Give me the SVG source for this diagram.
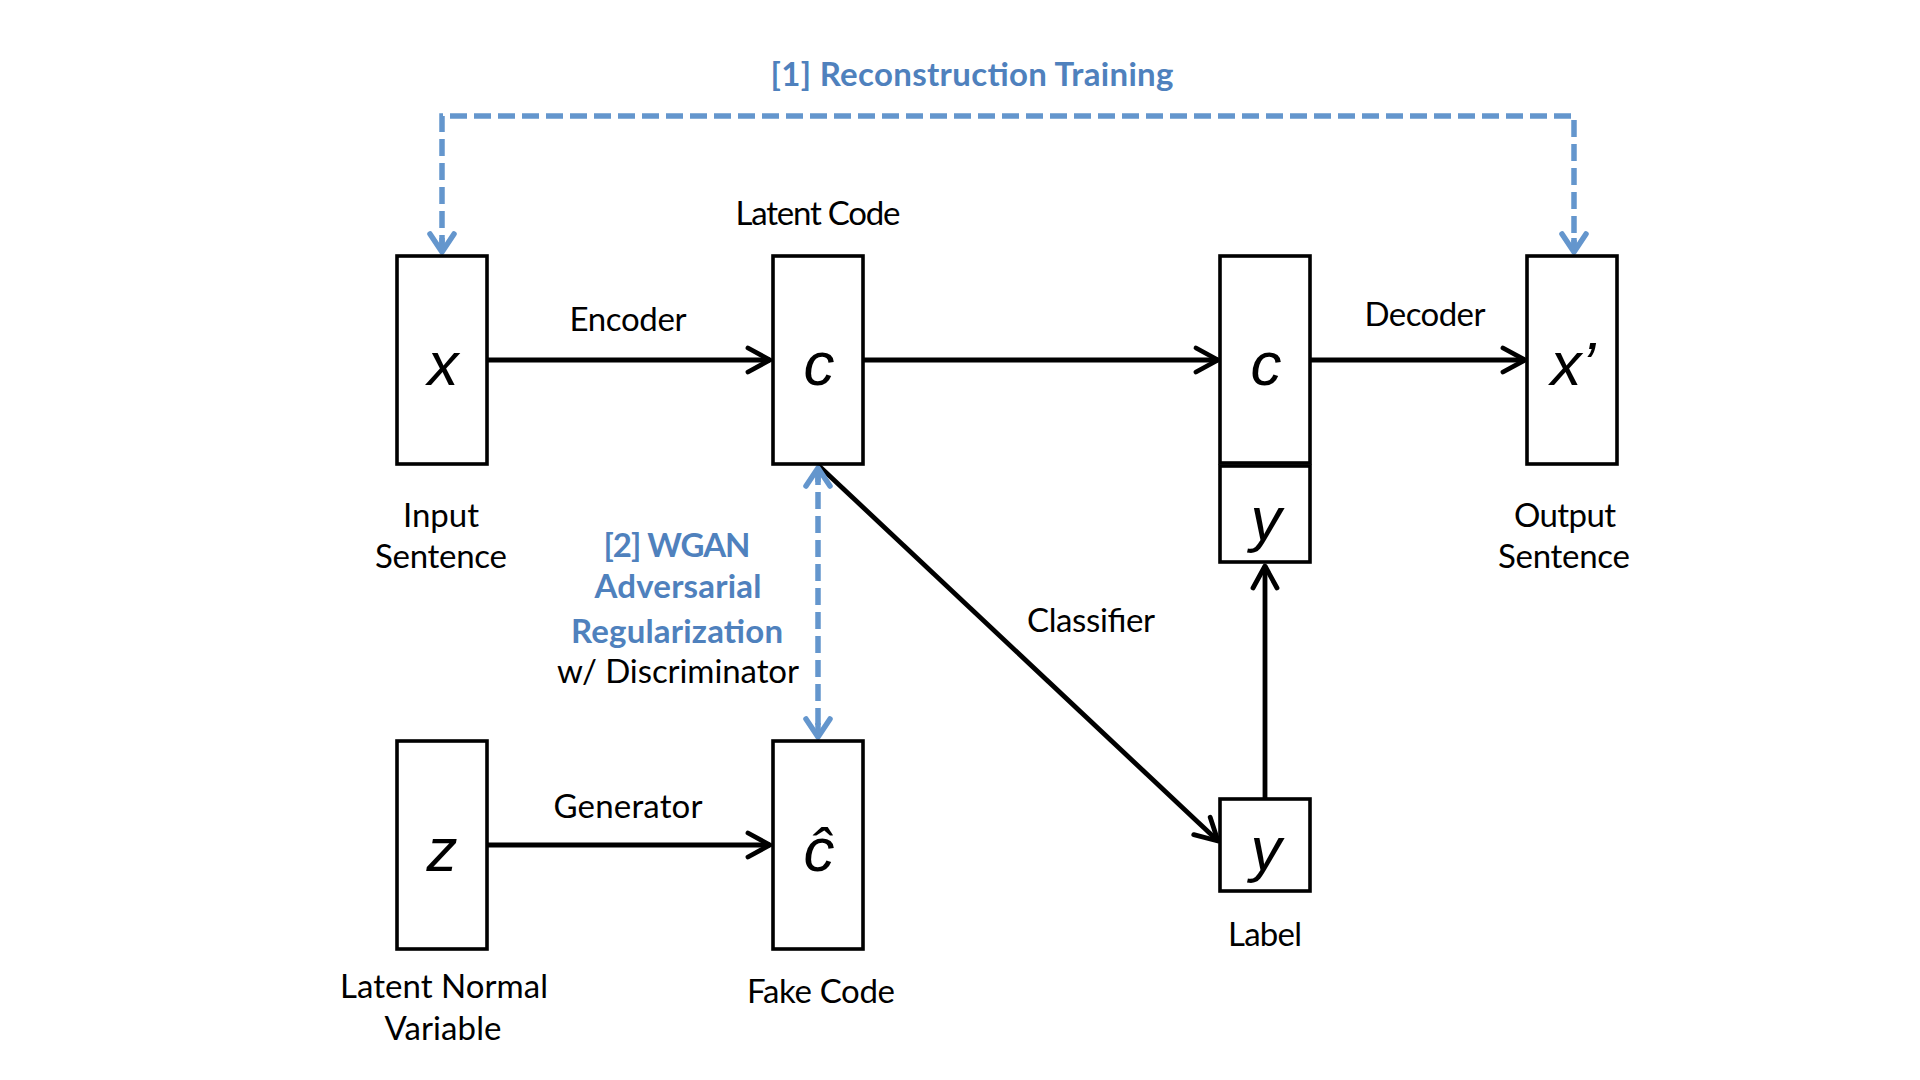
<svg xmlns="http://www.w3.org/2000/svg" width="1920" height="1080" viewBox="0 0 1920 1080">
<style>
  .box { fill: #fff; stroke: #000; stroke-width: 3.6; }
  .sym { font-family: "Liberation Sans", Arial, sans-serif; font-style: italic; font-size: 62px; fill: #000; text-anchor: middle; }
  .lbl { font-family: Lato, "Open Sans", sans-serif; font-size: 33px; fill: #000; text-anchor: middle; }
  .blue { font-family: Lato, "Open Sans", sans-serif; font-size: 33px; font-weight: bold; fill: #4F81BD; text-anchor: middle; }
  .arr { fill: none; stroke: #000; stroke-width: 4.8; }
  .dash { fill: none; stroke: #6496CD; stroke-width: 5.5; stroke-dasharray: 17 7; }
</style>
<defs>
  <marker id="ah" markerUnits="userSpaceOnUse" viewBox="-30 -16 34 32" markerWidth="34" markerHeight="32" refX="0" refY="0" orient="auto">
    <path d="M-22,-12 L0,0 L-22,12" fill="none" stroke="#000" stroke-width="4.8" stroke-linecap="round" stroke-linejoin="round"/>
  </marker>
  <marker id="bh" markerUnits="userSpaceOnUse" viewBox="-30 -16 34 32" markerWidth="34" markerHeight="32" refX="0" refY="0" orient="auto-start-reverse">
    <path d="M-18,-12 L0,0 L-18,12" fill="none" stroke="#6496CD" stroke-width="5.5" stroke-linecap="round" stroke-linejoin="round"/>
    <path d="M-14,0 L0,0" fill="none" stroke="#6496CD" stroke-width="5.5"/>
  </marker>
</defs>
<rect width="1920" height="1080" fill="#fff"/>

<g id="connectors">
  <line class="arr" x1="487" y1="360" x2="770" y2="360" marker-end="url(#ah)"/>
  <line class="arr" x1="863" y1="360" x2="1218" y2="360" marker-end="url(#ah)"/>
  <line class="arr" x1="1310" y1="360" x2="1525" y2="360" marker-end="url(#ah)"/>
  <line class="arr" x1="487" y1="845" x2="770" y2="845" marker-end="url(#ah)"/>
  <line class="arr" x1="818" y1="465" x2="1218" y2="841" marker-end="url(#ah)"/>
  <line class="arr" x1="1265" y1="799" x2="1265" y2="566" marker-end="url(#ah)"/>
  <path class="dash" d="M442,252 V116 H1574 V252" marker-start="url(#bh)" marker-end="url(#bh)"/>
  <line class="dash" x1="818" y1="468" x2="818" y2="737" marker-start="url(#bh)" marker-end="url(#bh)"/>
</g>

<g id="edge-labels">
  <text class="blue" x="972" y="86" textLength="403">[1] Reconstruction Training</text>
  <text class="lbl" x="628" y="331" textLength="117">Encoder</text>
  <text class="lbl" x="1425" y="326" textLength="121">Decoder</text>
  <text class="lbl" x="628" y="818" textLength="149">Generator</text>
  <text class="lbl" x="1091" y="632" textLength="128">Classifier</text>
  <text class="blue" x="677" y="557" textLength="147">[2] WGAN</text>
  <text class="blue" x="678" y="598" textLength="167">Adversarial</text>
  <text class="blue" x="677" y="643" textLength="212">Regularization</text>
  <text class="lbl" x="678" y="683" textLength="242">w/ Discriminator</text>
</g>

<g id="node-x">
  <rect class="box" x="397" y="256" width="90" height="208"/>
  <text class="sym" x="443" y="385">x</text>
  <text class="lbl" x="441" y="527" textLength="76">Input</text>
  <text class="lbl" x="441" y="568" textLength="132">Sentence</text>
</g>

<g id="node-c">
  <rect class="box" x="773" y="256" width="90" height="208"/>
  <text class="sym" x="819" y="385">c</text>
  <text class="lbl" x="818" y="225" textLength="165">Latent Code</text>
</g>

<g id="node-cy">
  <rect class="box" x="1220" y="256" width="90" height="207"/>
  <text class="sym" x="1266" y="385">c</text>
  <rect class="box" x="1220" y="466" width="90" height="96"/>
  <text class="sym" x="1266" y="540">y</text>
</g>

<g id="node-xprime">
  <rect class="box" x="1527" y="256" width="90" height="208"/>
  <text class="sym" x="1573" y="385">x’</text>
  <text class="lbl" x="1565" y="527" textLength="102">Output</text>
  <text class="lbl" x="1564" y="568" textLength="132">Sentence</text>
</g>

<g id="node-z">
  <rect class="box" x="397" y="741" width="90" height="208"/>
  <text class="sym" x="442" y="871">z</text>
  <text class="lbl" x="444" y="998" textLength="208">Latent Normal</text>
  <text class="lbl" x="443" y="1040" textLength="117">Variable</text>
</g>

<g id="node-chat">
  <rect class="box" x="773" y="741" width="90" height="208"/>
  <text class="sym" x="819" y="871">ĉ</text>
  <text class="lbl" x="821" y="1003" textLength="148">Fake Code</text>
</g>

<g id="node-label">
  <rect class="box" x="1220" y="799" width="90" height="92"/>
  <text class="sym" x="1266" y="870">y</text>
  <text class="lbl" x="1265" y="946" textLength="74">Label</text>
</g>
</svg>
